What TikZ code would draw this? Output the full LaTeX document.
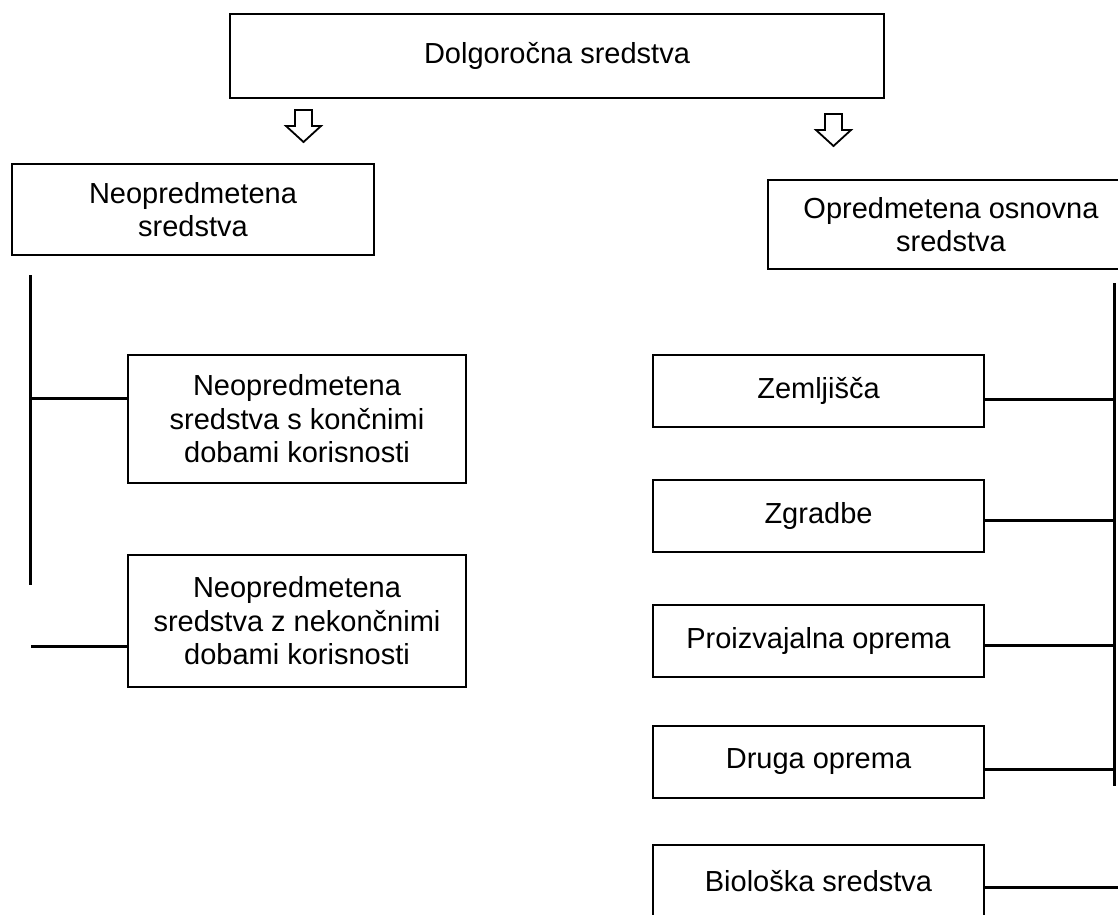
\documentclass[tikz,border=0pt]{standalone}
\usepackage{fontspec}
\setmainfont{Liberation Sans}
\begin{document}
\begin{tikzpicture}[x=1pt,y=-1pt,
  box/.style={draw, line width=2pt, align=center, inner sep=0pt, anchor=north west,
    font=\fontsize{29}{33.5}\selectfont},
  rbox/.style={box, minimum width=331pt, minimum height=72pt},
  bus/.style={line width=3pt},
  blockarrow/.style={draw, line width=1.8pt, fill=white, line join=miter}]
\useasboundingbox (0,0) rectangle (1118,914);
\clip (0,0) rectangle (1118,914);

% boxes
\node[box, minimum width=654pt, minimum height=84pt] (top) at (229,13) {Dolgoročna sredstva};
\node[box, minimum width=362pt, minimum height=91pt] (neo) at (11,163) {Neopredmetena\\sredstva};
\node[box, minimum width=366pt, minimum height=89pt] (opr) at (767,179) {Opredmetena osnovna\\sredstva};
\node[box, minimum width=338pt, minimum height=128pt] (kon) at (127,354) {Neopredmetena\\sredstva s končnimi\\dobami korisnosti};
\node[box, minimum width=338pt, minimum height=132pt] (nek) at (127,554) {Neopredmetena\\sredstva z nekončnimi\\dobami korisnosti};
\node[rbox] (zem) at (652,354) {Zemljišča};
\node[rbox] (zgr) at (652,479) {Zgradbe};
\node[rbox] (pro) at (652,604) {Proizvajalna oprema};
\node[rbox] (dru) at (652,725) {Druga oprema};
\node[rbox] (bio) at (652,844) {Biološka sredstva};

% block arrows
\draw[blockarrow] (295,110) -- (312,110) -- (312,126) -- (321,126) -- (303.5,142)
  -- (286,126) -- (295,126) -- cycle;
\draw[blockarrow] (825,114) -- (842,114) -- (842,130) -- (851,130) -- (833.5,146)
  -- (816,130) -- (825,130) -- cycle;

% left bus
\coordinate (lbt) at (30,275);
\coordinate (lbb) at (30,585);
\coordinate (lj1) at (30,398);
\coordinate (lj2) at (31,646);
\draw[bus] (lbt) -- (lbb);
\draw[bus] (lj1) -- (lj1 -| kon.west);
\draw[bus] (lj2) -- (lj2 -| nek.west);

% right bus
\coordinate (rbt) at (1114,283);
\coordinate (rbb) at (1114,786);
\coordinate (rj1) at (1114,399);
\coordinate (rj2) at (1114,520);
\coordinate (rj3) at (1114,645);
\coordinate (rj4) at (1114,769);
\coordinate (rj5) at (1120,887);
\draw[bus] (rbt) -- (rbb);
\draw[bus] (rj1 -| zem.east) -- (rj1);
\draw[bus] (rj2 -| zgr.east) -- (rj2);
\draw[bus] (rj3 -| pro.east) -- (rj3);
\draw[bus] (rj4 -| dru.east) -- (rj4);
\draw[bus] (rj5 -| bio.east) -- (rj5);
\end{tikzpicture}
\end{document}
